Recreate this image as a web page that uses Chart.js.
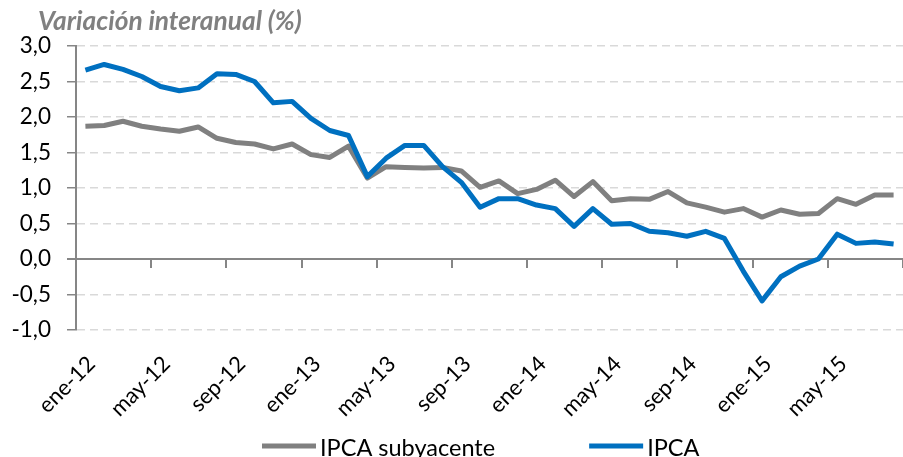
<!DOCTYPE html>
<html><head><meta charset="utf-8">
<script src="https://cdn.jsdelivr.net/npm/chart.js@4.4.0/dist/chart.umd.min.js"></script>
<style>html,body{margin:0;padding:0;background:#fff;overflow:hidden}#wrap{width:903px;height:457px;position:relative}</style>
</head><body><div id="wrap"><canvas id="c" width="903" height="457"></canvas></div>
<script>
const months = ['ene-12','feb-12','mar-12','abr-12','may-12','jun-12','jul-12','ago-12','sep-12','oct-12','nov-12','dic-12',
  'ene-13','feb-13','mar-13','abr-13','may-13','jun-13','jul-13','ago-13','sep-13','oct-13','nov-13','dic-13',
  'ene-14','feb-14','mar-14','abr-14','may-14','jun-14','jul-14','ago-14','sep-14','oct-14','nov-14','dic-14',
  'ene-15','feb-15','mar-15','abr-15','may-15','jun-15','jul-15','ago-15'];
const ipcaSubyacente = [1.87,1.88,1.94,1.87,1.83,1.80,1.86,1.70,1.64,1.62,1.55,1.62,
  1.47,1.43,1.59,1.14,1.30,1.29,1.28,1.29,1.24,1.01,1.10,0.92,
  0.98,1.11,0.88,1.09,0.82,0.85,0.84,0.95,0.79,0.73,0.66,0.71,
  0.59,0.69,0.63,0.64,0.85,0.77,0.90,0.90];
const ipca = [2.66,2.74,2.67,2.57,2.43,2.37,2.41,2.61,2.60,2.50,2.20,2.22,
  1.98,1.81,1.74,1.16,1.42,1.60,1.60,1.30,1.08,0.73,0.85,0.85,
  0.76,0.71,0.46,0.71,0.49,0.50,0.39,0.37,0.32,0.39,0.29,-0.17,
  -0.59,-0.25,-0.10,0.00,0.35,0.22,0.24,0.21];
const yTicks = [-1,-0.5,0,0.5,1,1.5,2,2.5,3];
const seriesNames = ['IPCA subyacente','IPCA'];
const seriesColors = ['#808080','#0070C0'];
const titleText = 'Variación interanual (%)';
const FONT = 'Lato, "Open Sans", sans-serif';
const TICK_EVERY = 4;

const overlay = {
  id: 'overlay',
  beforeDatasetsDraw(chart) {
    const ctx = chart.ctx, xs = chart.scales.x, ys = chart.scales.y;
    const y0 = ys.getPixelForValue(0);
    const step = xs.getPixelForValue(1) - xs.getPixelForValue(0);
    ctx.save();
    ctx.strokeStyle = '#868686';
    ctx.lineWidth = 2;
    ctx.beginPath();
    ctx.moveTo(chart.chartArea.left - 9, y0);
    ctx.lineTo(chart.width, y0);
    for (let i = TICK_EVERY; i <= months.length; i += TICK_EVERY) {
      const x = Math.round(xs.getPixelForValue(i) - step / 2);
      if (x > chart.width) break;
      ctx.moveTo(x, y0);
      ctx.lineTo(x, y0 + 9);
    }
    ctx.stroke();
    ctx.restore();
  },
  afterDraw(chart) {
    const ctx = chart.ctx;
    ctx.save();
    ctx.fillStyle = '#808080';
    ctx.font = 'italic bold 26.3px ' + FONT;
    ctx.textBaseline = 'alphabetic';
    ctx.fillText(titleText, 38, 30);
    // legend
    ctx.font = '23.5px ' + FONT;
    ctx.textBaseline = 'middle';
    ctx.fillStyle = '#000';
    let x = 262;
    const yL = 446;
    chart.data.datasets.forEach((ds) => {
      ctx.strokeStyle = ds.borderColor;
      ctx.lineWidth = 5;
      ctx.beginPath();
      ctx.moveTo(x, yL); ctx.lineTo(x + 54, yL); ctx.stroke();
      const tx = x + 58;
      ctx.fillText(ds.label, tx, yL + 2);
      x = tx + ctx.measureText(ds.label).width + 94;
    });
    ctx.restore();
  }
};

new Chart(document.getElementById('c'), {
  type: 'line',
  data: {
    labels: months,
    datasets: [
      {label: seriesNames[0], data: ipcaSubyacente, borderColor: seriesColors[0], borderWidth: 5, pointRadius: 0, tension: 0, order: 2, borderJoinStyle: 'round', fill: false},
      {label: seriesNames[1], data: ipca, borderColor: seriesColors[1], borderWidth: 5, pointRadius: 0, tension: 0, order: 1, borderJoinStyle: 'round', fill: false}
    ]
  },
  options: {
    responsive: false,
    animation: false,
    layout: {padding: {top: 46, right: -2, left: 0, bottom: 0}},
    plugins: {legend: {display: false}, title: {display: false}, tooltip: {enabled: false}},
    scales: {
      x: {
        type: 'category', offset: true,
        grid: {display: false, drawTicks: false},
        border: {display: false},
        ticks: {autoSkip: false, maxRotation: 45, minRotation: 45, padding: 21, labelOffset: 6,
          font: {family: FONT, size: 22}, color: '#000',
          callback: (v, i) => (i % TICK_EVERY === 0 ? months[i] : '')},
        afterFit: (s) => { s.height = 127; s.paddingRight = 0; s.paddingLeft = 0; }
      },
      y: {
        min: -1, max: 3,
        afterBuildTicks: (s) => { s.ticks = yTicks.map(v => ({value: v})); },
        ticks: {padding: 16, font: {family: FONT, size: 22.5}, color: '#000',
          callback: (v) => Number(v).toFixed(1).replace('.', ',')},
        grid: {color: (c) => (c.tick && c.tick.value === 0 ? 'rgba(0,0,0,0)' : '#d9d9d9'),
          lineWidth: 1.5, tickLength: 9, tickColor: '#868686', tickWidth: 1.5, tickBorderDash: []},
        border: {display: true, color: '#868686', width: 2, dash: [8, 5]},
        afterFit: (s) => { s.width = 76; }
      }
    }
  },
  plugins: [overlay]
});
</script></body></html>
